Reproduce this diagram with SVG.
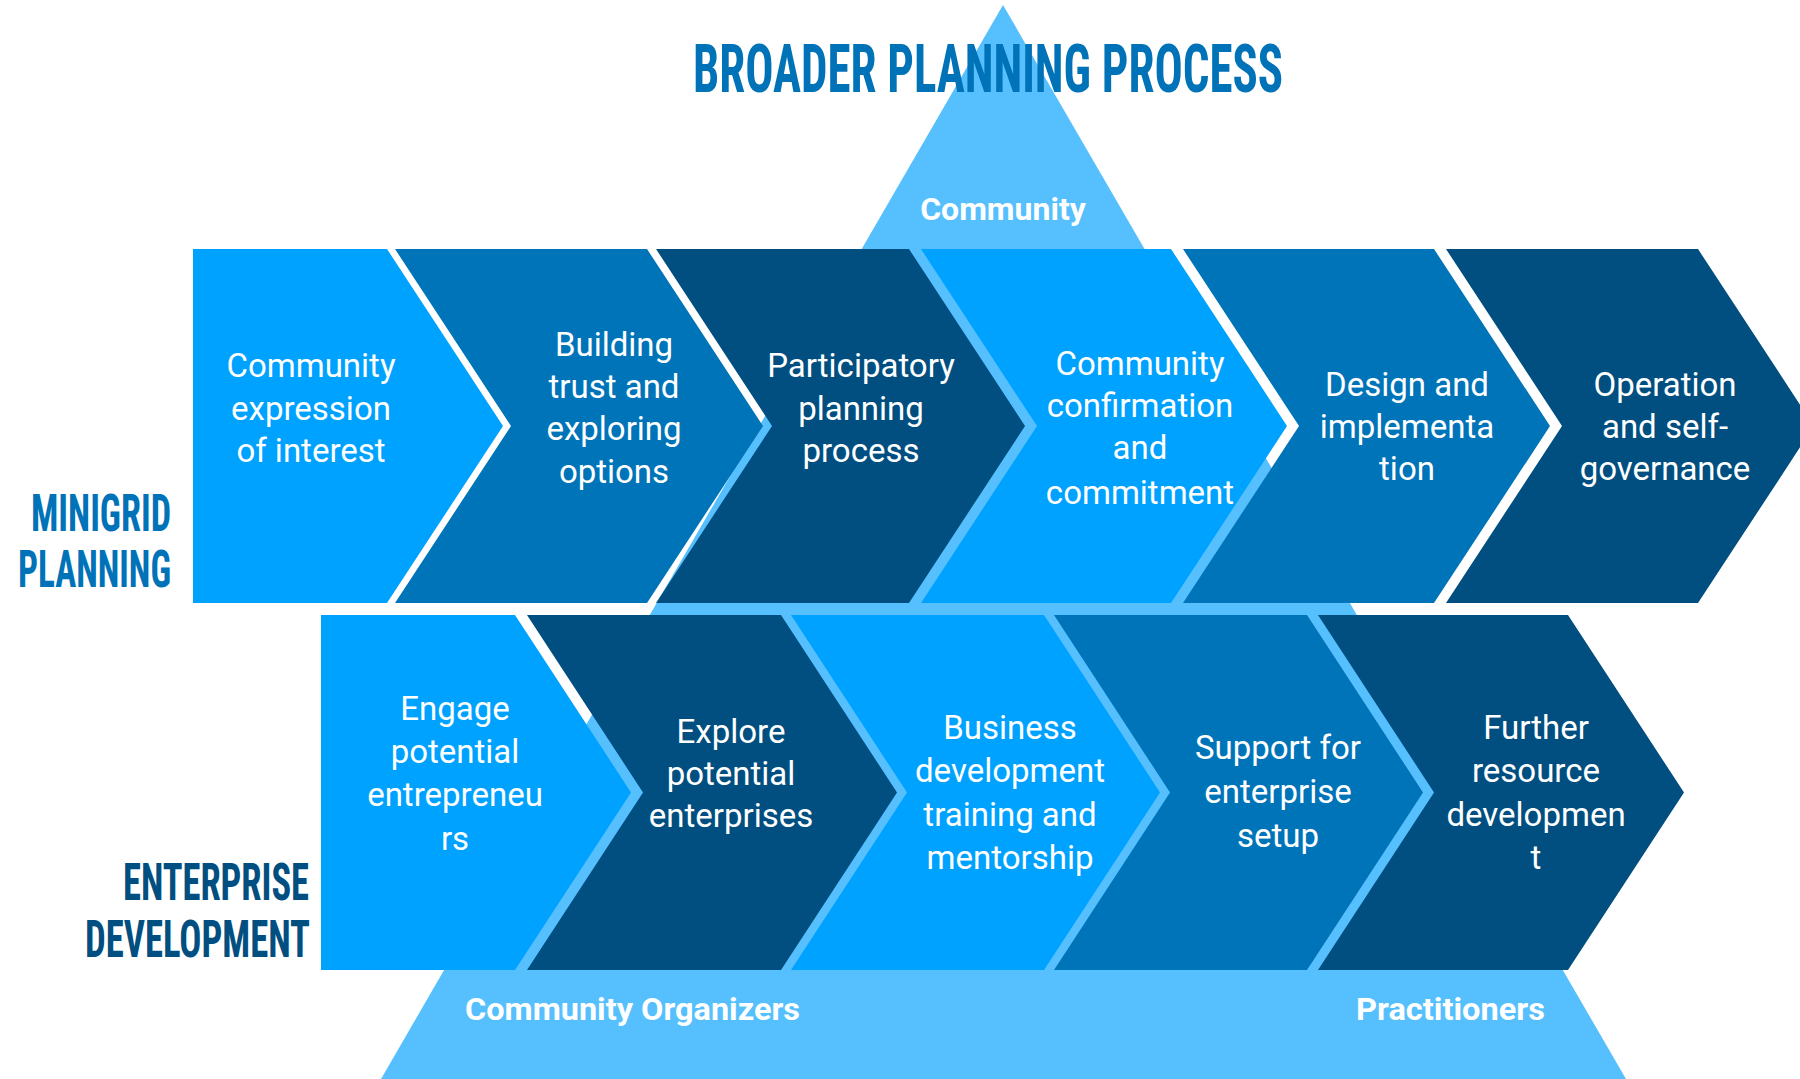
<svg xmlns="http://www.w3.org/2000/svg" width="1800" height="1079" viewBox="0 0 1800 1079">
<style>
.bright{fill:#00A2FF}
.medium{fill:#0074B9}
.dark{fill:#004F80}
.tri{fill:#56BFFE}
.t{font-family:Roboto,"Liberation Sans",Arial,sans-serif;font-size:33px;fill:#FFFFFF;text-anchor:middle}
.tb{font-family:Roboto,"Liberation Sans",Arial,sans-serif;font-size:32px;font-weight:700;fill:#FFFFFF}
.hd{font-family:"Roboto Condensed","Liberation Sans Narrow","DejaVu Sans Condensed",Roboto,sans-serif;font-weight:700}
.blue{fill:#0072B8}
.navy{fill:#004F80}
</style>
<rect width="1800" height="1079" fill="#FFFFFF"/>
<g id="broader-triangle">
<polygon class="tri" points="1003,5 1626,1079 381,1079"/>
<text class="tb" x="1003" y="220" text-anchor="middle">Community</text>
<text class="tb" x="465" y="1020" textLength="335" lengthAdjust="spacingAndGlyphs">Community Organizers</text>
<text class="tb" x="1356" y="1020" textLength="189" lengthAdjust="spacingAndGlyphs">Practitioners</text>
</g>
<g id="title">
<text class="hd blue" x="693" y="92" font-size="67" textLength="590" lengthAdjust="spacingAndGlyphs">BROADER PLANNING PROCESS</text>
</g>
<g id="label-minigrid">
<text class="hd blue" x="31" y="531" font-size="52" textLength="140" lengthAdjust="spacingAndGlyphs">MINIGRID</text>
<text class="hd blue" x="18" y="587" font-size="52" textLength="153" lengthAdjust="spacingAndGlyphs">PLANNING</text>
</g>
<g id="label-enterprise">
<text class="hd navy" x="123" y="900" font-size="51" textLength="186" lengthAdjust="spacingAndGlyphs">ENTERPRISE</text>
<text class="hd navy" x="85" y="957" font-size="51" textLength="225" lengthAdjust="spacingAndGlyphs">DEVELOPMENT</text>
</g>
<g id="m1">
<polygon class="bright" points="193,249 387,249 503,426 387,603 193,603"/>
<text class="t" x="311"><tspan x="311" y="377">Community</tspan><tspan x="311" y="420">expression</tspan><tspan x="311" y="462">of interest</tspan></text>
</g>
<g id="m2">
<polygon class="medium" points="395,249 647,249 763,426 647,603 395,603 511,426"/>
<text class="t"><tspan x="614" y="356">Building</tspan><tspan x="614" y="398">trust and</tspan><tspan x="614" y="440">exploring</tspan><tspan x="614" y="483">options</tspan></text>
</g>
<g id="m3">
<polygon class="dark" points="656,249 909,249 1025,426 909,603 656,603 772,426"/>
<text class="t"><tspan x="861" y="377">Participatory</tspan><tspan x="861" y="420">planning</tspan><tspan x="861" y="462">process</tspan></text>
</g>
<g id="m4">
<polygon class="bright" points="921,249 1171,249 1287,426 1171,603 921,603 1037,426"/>
<text class="t"><tspan x="1140" y="375">Community</tspan><tspan x="1140" y="417">confirmation</tspan><tspan x="1140" y="459">and</tspan><tspan x="1140" y="504">commitment</tspan></text>
</g>
<g id="m5">
<polygon class="medium" points="1183,249 1434,249 1550,426 1434,603 1183,603 1299,426"/>
<text class="t"><tspan x="1407" y="396">Design and</tspan><tspan x="1407" y="438">implementa</tspan><tspan x="1407" y="480">tion</tspan></text>
</g>
<g id="m6">
<polygon class="dark" points="1446,249 1698,249 1814,426 1698,603 1446,603 1562,426"/>
<text class="t"><tspan x="1665" y="396">Operation</tspan><tspan x="1665" y="438">and self-</tspan><tspan x="1665" y="480">governance</tspan></text>
</g>
<g id="e1">
<polygon class="bright" points="321,615 515,615 631,792.5 515,970 321,970"/>
<text class="t"><tspan x="455" y="720">Engage</tspan><tspan x="455" y="763">potential</tspan><tspan x="455" y="806">entrepreneu</tspan><tspan x="455" y="850">rs</tspan></text>
</g>
<g id="e2">
<polygon class="dark" points="527,615 781,615 897,792.5 781,970 527,970 643,792.5"/>
<text class="t"><tspan x="731" y="743">Explore</tspan><tspan x="731" y="785">potential</tspan><tspan x="731" y="827">enterprises</tspan></text>
</g>
<g id="e3">
<polygon class="bright" points="791,615 1044,615 1160,792.5 1044,970 791,970 907,792.5"/>
<text class="t"><tspan x="1010" y="739">Business</tspan><tspan x="1010" y="782">development</tspan><tspan x="1010" y="826">training and</tspan><tspan x="1010" y="869">mentorship</tspan></text>
</g>
<g id="e4">
<polygon class="medium" points="1054,615 1307,615 1423,792.5 1307,970 1054,970 1170,792.5"/>
<text class="t"><tspan x="1278" y="759">Support for</tspan><tspan x="1278" y="803">enterprise</tspan><tspan x="1278" y="847">setup</tspan></text>
</g>
<g id="e5">
<polygon class="dark" points="1318,615 1568,615 1684,792.5 1568,970 1318,970 1434,792.5"/>
<text class="t"><tspan x="1536" y="739">Further</tspan><tspan x="1536" y="782">resource</tspan><tspan x="1536" y="826">developmen</tspan><tspan x="1536" y="869">t</tspan></text>
</g>
<g id="connectors"/>
</svg>
